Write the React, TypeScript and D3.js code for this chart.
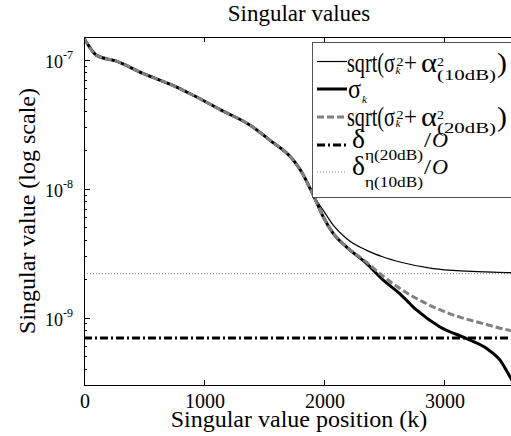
import React, { useEffect, useRef } from "react";
import * as d3 from "d3";

// head of the spectrum, all three curves coincide here
const kHead = [0, 15, 105, 270, 495, 745, 910, 1135, 1385, 1550, 1745, 1815, 1885];
const sigmaHead = [1.46e-7, 1.39e-7, 1.08e-7, 9.75e-8, 7.8e-8, 6.3e-8, 5.3e-8, 4.1e-8, 3.1e-8, 2.37e-8, 1.66e-8, 1.34e-8, 1.0e-8];

// sigma_k after the knee
const kSigmaTail = [1925, 1994, 2078, 2189, 2356, 2494, 2633, 2773, 2967, 3189, 3356, 3467, 3550, 3600];
const sigmaTail = [8.35e-9, 6.03e-9, 4.48e-9, 3.52e-9, 2.62e-9, 1.95e-9, 1.53e-9, 1.14e-9, 8.45e-10, 6.87e-10, 5.75e-10, 4.67e-10, 3.47e-10, 2.9e-10];

// sqrt(sigma^2 + alpha^2), 10 dB
const kAlpha10Tail = [1925, 1994, 2078, 2189, 2356, 2494, 2633, 2911, 3189, 3550, 3600];
const alpha10Tail = [8.5e-9, 6.79e-9, 5.19e-9, 4.09e-9, 3.32e-9, 2.95e-9, 2.7e-9, 2.4e-9, 2.29e-9, 2.23e-9, 2.22e-9];

// sqrt(sigma^2 + alpha^2), 20 dB
const kAlpha20Tail = [1925, 1994, 2078, 2189, 2356, 2494, 2633, 2800, 3050, 3328, 3550, 3600];
const alpha20Tail = [8.35e-9, 6.03e-9, 4.48e-9, 3.53e-9, 2.68e-9, 2.09e-9, 1.68e-9, 1.36e-9, 1.07e-9, 8.97e-10, 7.96e-10, 7.8e-10];

// thresholds delta / o
const delta10 = 2.19e-9;
const delta20 = 6.95e-10;

const xTicks = [0, 1000, 2000, 3000];
const yMajor = [1e-9, 1e-8, 1e-7];
const yExponents = ["-9", "-8", "-7"];

const FONT = "Liberation Serif, Tinos, Times New Roman, DejaVu Serif, serif";

const App = () => {
  const svgRef = useRef<SVGSVGElement | null>(null);

  useEffect(() => {
    const svg = d3.select(svgRef.current);
    svg.selectAll("*").remove();

    const left = 84, right = 516, top = 37, bottom = 385;

    const x = d3.scaleLinear().domain([0, 3600]).range([left, right]);
    const y = d3.scaleLog().domain([3e-10, 1.5e-7]).range([bottom, top]);

    svg.append("rect").attr("width", 511).attr("height", 436).attr("fill", "#fff");

    svg
      .append("defs")
      .append("clipPath")
      .attr("id", "plotClip")
      .append("rect")
      .attr("x", left)
      .attr("y", top)
      .attr("width", right - left)
      .attr("height", bottom - top);

    const toPoints = (ks: number[], vs: number[]) => ks.map((k, i) => [k, vs[i]] as [number, number]);
    const sigma = toPoints(kHead, sigmaHead).concat(toPoints(kSigmaTail, sigmaTail));
    const alpha10 = toPoints(kHead, sigmaHead).concat(toPoints(kAlpha10Tail, alpha10Tail));
    const alpha20 = toPoints(kHead, sigmaHead).concat(toPoints(kAlpha20Tail, alpha20Tail));

    const line = d3
      .line<[number, number]>()
      .x((d) => x(d[0]))
      .y((d) => y(d[1]))
      .curve(d3.curveMonotoneX);

    const plot = svg.append("g").attr("clip-path", "url(#plotClip)");

    // horizontal thresholds
    plot
      .append("line")
      .attr("x1", x(0))
      .attr("x2", x(3600))
      .attr("y1", y(delta10))
      .attr("y2", y(delta10))
      .attr("stroke", "#808080")
      .attr("stroke-width", 1)
      .attr("stroke-dasharray", "1,2");
    plot
      .append("line")
      .attr("x1", x(0))
      .attr("x2", x(3600))
      .attr("y1", y(delta20))
      .attr("y2", y(delta20))
      .attr("stroke", "#000")
      .attr("stroke-width", 3)
      .attr("stroke-dasharray", "8,3,2,3");

    // curves
    plot.append("path").attr("d", line(alpha10)).attr("fill", "none").attr("stroke", "#000").attr("stroke-width", 1.2);
    plot.append("path").attr("d", line(sigma)).attr("fill", "none").attr("stroke", "#000").attr("stroke-width", 3);
    plot
      .append("path")
      .attr("d", line(alpha20))
      .attr("fill", "none")
      .attr("stroke", "#808080")
      .attr("stroke-width", 3)
      .attr("stroke-dasharray", "7,3");

    // frame
    const axes = svg.append("g").attr("stroke", "#000").attr("stroke-width", 1).attr("fill", "none");
    axes.append("rect").attr("x", left + 0.5).attr("y", top + 0.5).attr("width", right - left).attr("height", bottom - top);

    // x ticks (inward, top and bottom)
    xTicks.forEach((t) => {
      const xp = Math.round(x(t)) + 0.5;
      axes.append("line").attr("x1", xp).attr("x2", xp).attr("y1", bottom).attr("y2", bottom - 5);
      axes.append("line").attr("x1", xp).attr("x2", xp).attr("y1", top).attr("y2", top + 5);
    });

    // y ticks, major and minor
    const [yLo, yHi] = y.domain();
    for (let e = -10; e <= -7; e++) {
      for (let m = 1; m <= 9; m++) {
        const v = m * Math.pow(10, e);
        if (v < yLo || v > yHi) continue;
        const yp = Math.round(y(v)) + 0.5;
        axes
          .append("line")
          .attr("x1", left)
          .attr("x2", left + (m === 1 ? 6 : 3))
          .attr("y1", yp)
          .attr("y2", yp);
      }
    }

    const text = svg.append("g").style("font-family", FONT).attr("fill", "#000");

    // x tick labels
    text
      .selectAll("text.xt")
      .data(xTicks)
      .enter()
      .append("text")
      .attr("x", (d) => x(d) + 1)
      .attr("y", 408)
      .attr("text-anchor", "middle")
      .attr("font-size", 20)
      .text((d) => String(d));

    // y tick labels 10^e
    yMajor.forEach((v, i) => {
      const yp = y(v);
      text.append("text").attr("x", 63).attr("y", yp + 8).attr("text-anchor", "end").attr("font-size", 18).text("10");
      text.append("text").attr("x", 63).attr("y", yp - 1).attr("font-size", 12).text(yExponents[i]);
    });

    // title & axis labels
    text.append("text").attr("x", 299).attr("y", 21).attr("text-anchor", "middle").attr("font-size", 23).text("Singular values");
    text
      .append("text")
      .attr("x", 299)
      .attr("y", 427)
      .attr("text-anchor", "middle")
      .attr("font-size", 24)
      .text("Singular value position (k)");
    text
      .append("text")
      .attr("transform", "translate(35, 211) rotate(-90)")
      .attr("text-anchor", "middle")
      .attr("font-size", 24)
      .text("Singular value (log scale)");

    // legend
    const lg = svg.append("g");
    lg.append("rect")
      .attr("x", 312.5)
      .attr("y", 42.5)
      .attr("width", 210)
      .attr("height", 155)
      .attr("fill", "#fff")
      .attr("stroke", "#555")
      .attr("stroke-width", 1);

    const rowY = [61.5, 89, 117, 145, 172];
    const samples = [
      { stroke: "#000", w: 1.2, dash: null },
      { stroke: "#000", w: 3, dash: null },
      { stroke: "#808080", w: 3, dash: "7,3" },
      { stroke: "#000", w: 3, dash: "8,3,2,3" },
      { stroke: "#808080", w: 1, dash: "1,2" },
    ];
    samples.forEach((s, i) => {
      lg.append("line")
        .attr("x1", 317)
        .attr("x2", 347)
        .attr("y1", rowY[i])
        .attr("y2", rowY[i])
        .attr("stroke", s.stroke)
        .attr("stroke-width", s.w)
        .attr("stroke-dasharray", s.dash);
    });

    const piece = (str: string, px: number, py: number, size: number, len?: number, italic = false) => {
      const t = lg
        .append("text")
        .attr("x", px)
        .attr("y", py)
        .style("font-family", FONT)
        .attr("font-size", size)
        .attr("font-style", italic ? "italic" : "normal")
        .text(str);
      if (len) t.attr("textLength", len).attr("lengthAdjust", "spacingAndGlyphs");
    };

    const sqrtEntry = (b: number, db: string) => {
      piece("sqrt(σ", 347, b, 28, 48);
      piece("k", 395.5, b + 1.5, 11, 5, true);
      piece("2", 396.5, b - 6.5, 13, 7);
      piece("+", 404, b, 28, 13);
      piece("α", 421, b, 28, 16);
      piece("2", 437, b - 6.5, 13, 7);
      piece("(" + db + ")", 437, b + 7.5, 14, 59);
      piece(")", 497, b, 28, 10);
    };
    const deltaEntry = (b: number, db: string) => {
      piece("δ", 352, b, 28, 13);
      piece("η(" + db + ")", 365, b + 12, 14, 58);
      piece("/", 424, b - 1, 20, 7);
      piece("O", 432, b - 1, 20, 16, true);
    };

    sqrtEntry(72, "10dB");
    piece("σ", 348, 98, 28, 13);
    piece("k", 362, 103, 11, 5, true);
    sqrtEntry(125.5, "20dB");
    deltaEntry(148, "20dB");
    deltaEntry(175, "10dB");
  }, []);

  return (
    <svg
      ref={svgRef}
      width={511}
      height={436}
      style={{ position: "absolute", left: 0, top: 0 }}
    />
  );
};

export default App;
